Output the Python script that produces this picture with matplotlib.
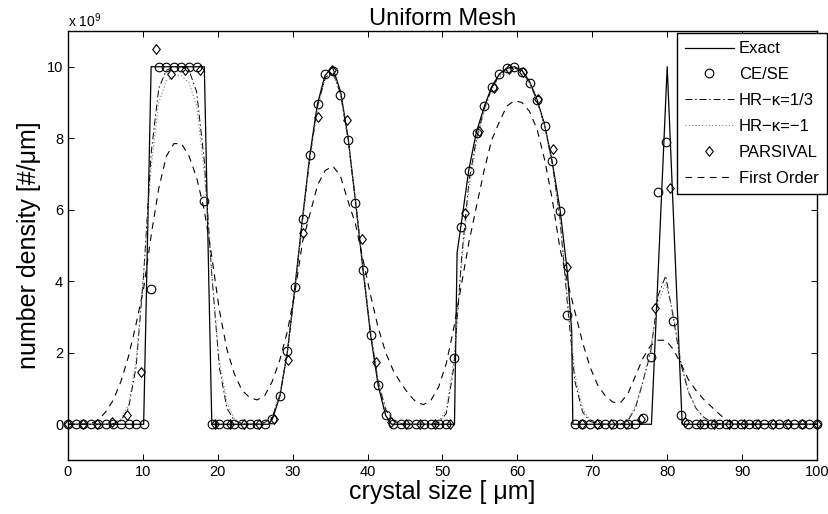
import numpy as np
import matplotlib
matplotlib.use('Agg')
import matplotlib.pyplot as plt

plt.rcParams['font.family'] = ['Liberation Sans', 'DejaVu Sans']
plt.rcParams['mathtext.fontset'] = 'custom'
plt.rcParams['mathtext.rm'] = 'Liberation Sans'

# uniform mesh (100 nodes) and PARSIVAL mesh (52 nodes), values in units of 1e9
x_grid = np.linspace(0, 100, 100)
x_pars = np.linspace(0, 100, 52)

# exact solution breakpoints
exact_x = [0, 10.1, 11.1, 18.2, 19.2,
           26.8, 27.3, 28.3, 29.3, 30.3, 31.3, 32.3, 33.3, 34.3, 35.3, 36.4, 37.4, 38.4, 39.4,
           40.4, 41.4, 42.4, 43.2,
           51.6, 51.95, 52.5, 53.5, 54.5, 55.6, 56.6, 57.6, 58.6, 59.6, 60.6, 61.6, 62.6, 63.6,
           64.6, 65.7, 66.7, 67.25, 67.4,
           77.9, 80.0, 82.0, 100]
exact_y = [0, 0, 10, 10, 0,
           0, 0.15, 0.8, 2.05, 3.85, 5.75, 7.55, 8.95, 9.75, 10.0, 9.3, 8.0, 6.2, 4.3,
           2.5, 1.1, 0.25, 0,
           0, 4.8, 5.6, 7.1, 8.15, 8.9, 9.45, 9.8, 9.96, 10.0, 9.9, 9.6, 9.1, 8.4,
           7.4, 6.0, 4.2, 2.6, 0,
           0, 10, 0, 0]

cese = [0, 0, 0, 0, 0, 0, 0, 0, 0, 0,
        0, 3.77, 10, 10, 10, 10, 10, 10, 6.25, 0,
        0, 0, 0, 0, 0, 0, 0, 0.15, 0.8, 2.05,
        3.84, 5.74, 7.53, 8.96, 9.8, 9.87, 9.2, 7.96, 6.2, 4.31,
        2.5, 1.1, 0.25, 0, 0, 0, 0, 0, 0, 0,
        0, 1.85, 5.53, 7.07, 8.14, 8.89, 9.43, 9.8, 9.96, 9.99,
        9.85, 9.54, 9.06, 8.35, 7.37, 5.97, 3.05, 0, 0, 0,
        0, 0, 0, 0, 0, 0, 0.17, 1.89, 6.5, 7.9,
        2.88, 0.25, 0, 0, 0, 0, 0, 0, 0, 0,
        0, 0, 0, 0, 0, 0, 0, 0, 0, 0]

hr_third = [0, 0, 0, 0, 0, 0, 0.02, 0.1, 0.45, 1.6,
            4.2, 7.6, 9.4, 9.9, 10.0, 10.0, 9.9, 9.3, 7.4, 4.2,
            1.6, 0.45, 0.1, 0.02, 0, 0, 0.05, 0.2, 0.8, 2.0,
            3.8, 5.7, 7.5, 8.9, 9.7, 9.85, 9.25, 8.0, 6.25, 4.35,
            2.55, 1.2, 0.4, 0.1, 0.02, 0, 0, 0, 0, 0.05,
            0.3, 1.6, 4.6, 6.8, 8.0, 8.8, 9.4, 9.75, 9.95, 9.98,
            9.85, 9.55, 9.05, 8.35, 7.3, 5.8, 3.4, 1.2, 0.35, 0.08,
            0.02, 0, 0, 0, 0.1, 0.45, 1.2, 2.0, 3.6, 4.15,
            3.0, 1.7, 0.9, 0.45, 0.2, 0.07, 0.02, 0, 0, 0,
            0, 0, 0, 0, 0, 0, 0, 0, 0, 0]

hr_minus1 = [0, 0, 0, 0, 0, 0, 0.03, 0.15, 0.55, 1.8,
             4.2, 7.2, 9.0, 9.6, 9.75, 9.75, 9.55, 8.9, 7.1, 4.2,
             1.8, 0.6, 0.15, 0.03, 0, 0, 0.05, 0.25, 0.85, 2.05,
             3.8, 5.7, 7.45, 8.85, 9.65, 9.8, 9.25, 8.0, 6.3, 4.4,
             2.6, 1.25, 0.45, 0.12, 0.03, 0, 0, 0, 0, 0.08,
             0.4, 1.8, 4.4, 6.6, 7.9, 8.75, 9.35, 9.7, 9.9, 9.95,
             9.85, 9.55, 9.05, 8.35, 7.3, 5.8, 3.6, 1.4, 0.45, 0.12,
             0.03, 0, 0, 0, 0.12, 0.5, 1.2, 2.1, 3.4, 3.95,
             3.1, 1.8, 0.95, 0.45, 0.18, 0.06, 0, 0, 0, 0,
             0, 0, 0, 0, 0, 0, 0, 0, 0, 0]

parsival = [0, 0, 0, 0.05, 0.25, 1.45, 10.5, 9.8, 9.9, 9.9,
            0, 0, 0, 0, 0.15, 1.8, 5.35, 8.6, 9.9, 8.5,
            5.17, 1.75, 0.05, 0, 0, 0, 0, 5.9, 8.2, 9.4,
            9.95, 9.85, 9.1, 7.7, 4.4, 0, 0, 0, 0, 0.15,
            3.24, 6.6, 0.05, 0, 0, 0, 0, 0, 0, 0,
            0, 0]

first_order = [0, 0, 0, 0.02, 0.12, 0.35, 0.68, 1.2, 1.9, 2.8,
               3.8, 5.3, 6.6, 7.5, 7.85, 7.85, 7.5, 6.9, 6.0, 4.7,
               3.2, 2.1, 1.4, 0.95, 0.75, 0.68, 0.8, 1.2, 1.8, 2.6,
               3.7, 5.1, 5.9, 6.7, 7.1, 7.22, 6.95, 6.25, 5.6, 4.6,
               3.6, 2.7, 2.0, 1.5, 1.15, 0.85, 0.62, 0.55, 0.68, 1.05,
               1.7, 2.7, 3.9, 5.1, 6.1, 7.1, 7.95, 8.45, 8.9, 9.05,
               9.0, 8.75, 8.25, 7.4, 6.3, 4.95, 4.0, 3.15, 2.3, 1.6,
               1.1, 0.8, 0.62, 0.6, 0.85, 1.35, 1.85, 2.2, 2.35, 2.35,
               2.1, 1.7, 1.25, 0.95, 0.7, 0.5, 0.3, 0.12, 0.04, 0,
               0, 0, 0, 0, 0, 0, 0, 0, 0, 0]

diamond = [(0, 1), (0.78, 0), (0, -1), (-0.78, 0), (0, 1)]

fig = plt.figure(figsize=(8.29, 5.14), dpi=100)
ax = fig.add_axes([68 / 829, 1 - 460 / 514, 749 / 829, 429 / 514])

ax.plot(exact_x, exact_y, '-', color='k', lw=0.9, label='Exact')
ax.plot(x_grid, cese, 'o', mfc='none', mec='k', ms=6.2, mew=0.8, clip_on=False, label='CE/SE')
ax.plot(x_grid, hr_third, color='k', lw=0.7, ls=(0, (7, 3, 1.5, 3)), label='HR\u2212\u03ba=1/3')
ax.plot(x_grid, hr_minus1, color='0.5', lw=0.8, ls=(0, (1, 2)), label='HR\u2212\u03ba=\u22121')
ax.plot(x_pars, parsival, ls='none', marker=diamond, mfc='none', mec='k', ms=7, mew=0.8,
        clip_on=False, label='PARSIVAL')
ax.plot(x_grid, first_order, color='k', lw=0.8, ls=(0, (6, 5)), label='First Order')

ax.set_xlim(0, 100)
ax.set_ylim(-1, 11)
ax.set_xticks(range(0, 101, 10))
ax.set_yticks(range(0, 11, 2))
ax.tick_params(direction='in', top=True, right=True, length=4, width=0.7, labelsize=10.5)
for s in ax.spines.values():
    s.set_linewidth(1.0)

ax.set_title('Uniform Mesh', fontsize=17, pad=4)
ax.set_xlabel('crystal size [ \u03bcm]', fontsize=18, labelpad=1)
ax.set_ylabel('number density [#/\u03bcm]', fontsize=18, labelpad=4)
fig.text(68 / 829, 1 - 27 / 514, r'x 10$^{9}$', ha='left', va='baseline', fontsize=10)

leg = ax.legend(loc='upper left', bbox_to_anchor=(677 / 829, 1 - 33 / 514),
                bbox_transform=fig.transFigure, borderaxespad=0, fontsize=12,
                handlelength=2.9, labelspacing=0.65, handletextpad=0.3,
                fancybox=False, framealpha=1, edgecolor='k', borderpad=0.5)
leg.get_frame().set_linewidth(1.0)

fig.savefig('out.png', dpi=100)
